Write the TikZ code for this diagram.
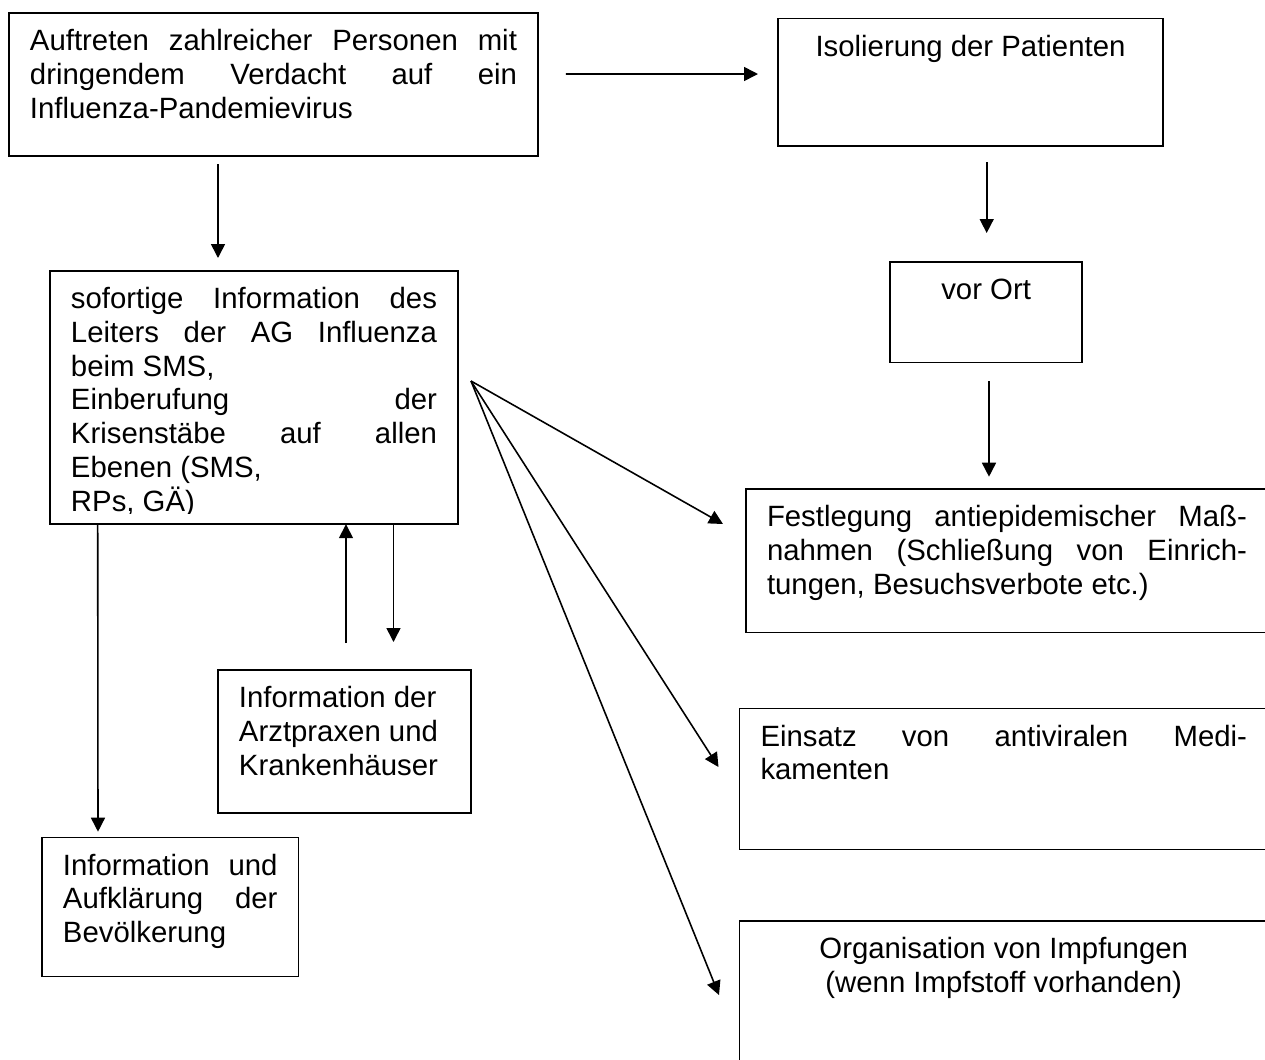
\documentclass[tikz,border=0pt]{standalone}
\usepackage{fontspec}
\setmainfont{Liberation Sans}
\usetikzlibrary{arrows.meta}

\newlength{\pxu}
\setlength{\pxu}{0.02cm}
\newcommand{\boxfont}{\fontsize{16.7pt}{19.2pt}\selectfont}
\newcommand{\feld}[4][]{\parbox[c][#3\pxu][t]{#2\pxu}{\sloppy#1\rule{0pt}{25\pxu}#4}}

\tikzstyle{block} =
        [
                rectangle,
                draw,
                line width = 1.1pt,
                anchor = north west,
                inner xsep = 0.42cm,
                inner ysep = 0.252cm,
                outer sep = 0pt,
                font = \boxfont
        ]
\tikzstyle{line} =
        [
                draw,
                line width = 0.9pt,
                -{Triangle[length = 0.28cm, width = 0.28cm]}
        ]

\begin{document}
\begin{tikzpicture}[x = 0.02cm, y = -0.02cm]
        \useasboundingbox (0,0) rectangle (1265,1059);
        \clip (0,0) rectangle (1265,1059);

        \node [block] (start) at (9,13) {\feld{487}{117.6}{Auftreten zahlreicher Personen mit\linebreak dringendem Verdacht auf ein\linebreak Influenza-Pandemievirus}};
        \node [block] (iso) at (778,18.5) {\feld[\centering]{343}{102.5}{Isolierung der Patienten}};
        \node [block] (ort) at (890,262) {\feld[\centering]{150.3}{75.3}{vor Ort}};
        \begin{scope}
                \clip (50,271) rectangle (458,513.5);
                \node [block, draw = none] (info) at (50,271) {\feld{366}{228}{sofortige Information des\linebreak Leiters der AG Influenza\linebreak beim SMS,\newline Einberufung der\linebreak Krisenstäbe auf allen\linebreak Ebenen (SMS,\newline RPs, GÄ)}};
        \end{scope}
        \draw [line width = 1.1pt] (info.north west) rectangle (info.south east);
        \node [block] (mass) at (746,489) {\feld{480}{118.3}{Festlegung antiepidemischer Maß-\linebreak nahmen (Schließung von Einrich-\linebreak tungen, Besuchsverbote etc.)}};
        \node [block] (praxen) at (218,670) {\feld{211}{117.8}{Information der\\ Arztpraxen und\\ Krankenhäuser}};
        \node [block] (medi) at (739.5,708.5) {\feld{486.5}{115.8}{Einsatz von antiviralen Medi-\linebreak kamenten}};
        \node [block] (aufkl) at (42,837.5) {\feld{214.5}{113.8}{Information und\linebreak Aufklärung der\linebreak Bevölkerung}};
        \node [block] (impf) at (739.5,921) {\feld[\centering]{486.5}{140}{Organisation von Impfungen\\ (wenn Impfstoff vorhanden)}};

        \path [line] ([shift={(28,61)}]start.north east) -- ([shift={(-20,55.5)}]iso.north west);
        \path [line] ([shift={(209,8.5)}]start.south west) -- ([shift={(168,-13)}]info.north west);
        \path [line] ([shift={(208.7,16)}]iso.south west) -- ([shift={(96.7,-29)}]ort.north west);
        \path [line] ([shift={(99,18.5)}]ort.south west) -- ([shift={(243,-12.3)}]mass.north west);
        \path [line] ([shift={(13,110)}]info.north east) -- ([shift={(-23,35)}]mass.north west);
        \path [line] ([shift={(13,110)}]info.north east) -- ([shift={(-21,58.5)}]medi.north west);
        \path [line] ([shift={(13,110)}]info.north east) -- ([shift={(-20.5,74)}]impf.north west);
        \path [line] ([shift={(47.7,0)}]info.south west) -- ([shift={(56,-5.8)}]aufkl.north west);
        \path [line] ([shift={(128,-27)}]praxen.north west) -- ([shift={(296,0)}]info.south west);
        \path [line] ([shift={(343.5,0)}]info.south west) -- ([shift={(175.5,-28)}]praxen.north west);
\end{tikzpicture}
\end{document}
